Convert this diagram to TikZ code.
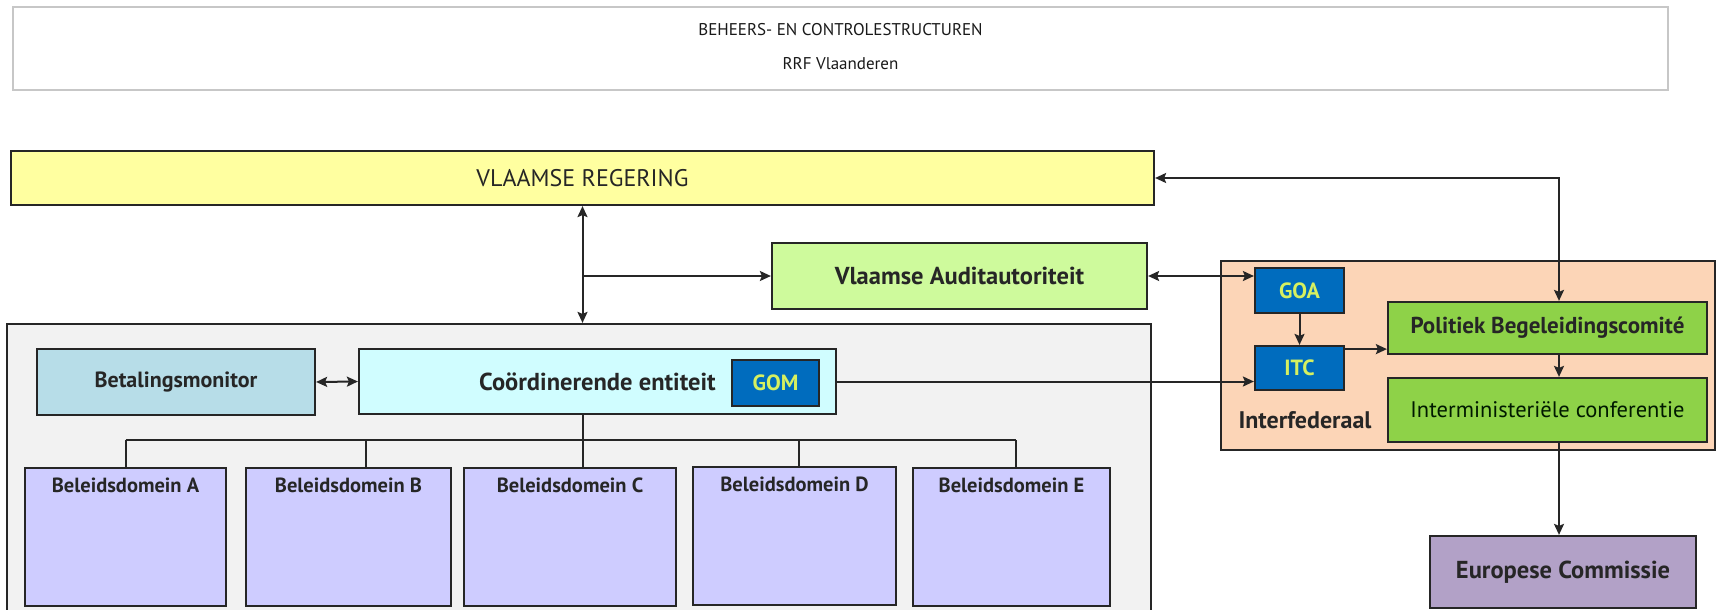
\documentclass[tikz,border=0pt]{standalone}
\usepackage{fontspec}
\setmainfont{PT Sans}
\usetikzlibrary{arrows.meta,positioning}
\definecolor{vryellow}{RGB}{255,255,160}
\definecolor{vagreen}{RGB}{206,250,156}
\definecolor{ctgrey}{RGB}{242,242,242}
\definecolor{bmblue}{RGB}{183,221,232}
\definecolor{cecyan}{RGB}{208,253,255}
\definecolor{codeblue}{RGB}{0,108,190}
\definecolor{codetext}{RGB}{214,240,96}
\definecolor{bdlilac}{RGB}{206,204,255}
\definecolor{ifpeach}{RGB}{252,213,183}
\definecolor{pbgreen}{RGB}{142,210,72}
\definecolor{eclilac}{RGB}{178,161,199}
\tikzstyle{box} = [draw=black!85, line width=2.2pt, inner sep=0pt, text=black!85, font={\fontsize{22}{26}\selectfont\bfseries}]
\tikzstyle{code} = [box, fill=codeblue, text=codetext, font={\fontsize{22}{26}\selectfont\bfseries}]
\tikzstyle{policybox} = [box, fill=bdlilac, minimum height=138pt]
\tikzstyle{policylabel} = [anchor=north, yshift=-7pt, text=black!85, font={\fontsize{20.5}{24}\selectfont\bfseries}]
\tikzstyle{arrow} = [line width=2pt,-{Stealth[length=11pt,width=10pt,inset=2pt]},color=black!85]
\tikzstyle{dblarrow} = [line width=2pt,{Stealth[length=11pt,width=10pt,inset=2pt]}-{Stealth[length=11pt,width=10pt,inset=2pt]},color=black!85]
\tikzstyle{link} = [line width=2pt,color=black!85]
\begin{document}
\begin{tikzpicture}[x=1pt,y=-1pt]
\useasboundingbox (0,0) rectangle (1719,610);
% Title
\node[draw=black!22, line width=1.8pt, minimum width=1655pt, minimum height=83pt] (title) at (840.5,48.5) {};
\node[font={\fontsize{17}{20}\selectfont}, text=black!90] (head) at (840.5,30) {BEHEERS- EN CONTROLESTRUCTUREN};
\node[font={\fontsize{17}{20}\selectfont}, text=black!90] (sub) at (840.5,64) {RRF Vlaanderen};

% Flemish level
\node[box, fill=vryellow, minimum width=1143pt, minimum height=54pt, font={\fontsize{24}{28}\selectfont}] (vr) at (582.5,178) {VLAAMSE REGERING};
\node[box, fill=vagreen, minimum width=375pt, minimum height=66pt, font={\fontsize{24.5}{28}\selectfont\bfseries}] (audit) at (959.5,276) {Vlaamse Auditautoriteit};
\node[box, fill=ctgrey, minimum width=1144pt, minimum height=296pt] (cont) at (579,472) {};
\node[box, fill=bmblue, minimum width=278pt, minimum height=66pt] (bm) at (176,382) {Betalingsmonitor};
\node[box, fill=cecyan, minimum width=477pt, minimum height=65pt, font={\fontsize{24.5}{28}\selectfont\bfseries}] (coord) at (597.5,381.5) {Coördinerende entiteit};
\node[code, minimum width=87pt, minimum height=46pt] (gom) at (775.5,383) {GOM};

% Policy domains
\node[policybox, minimum width=201pt, label={[policylabel]north:Beleidsdomein A}] (dA) at (125.5,537) {};
\node[policybox, minimum width=205pt, label={[policylabel]north:Beleidsdomein B}] (dB) at (348.5,537) {};
\node[policybox, minimum width=212pt, label={[policylabel]north:Beleidsdomein C}] (dC) at (570,537) {};
\node[policybox, minimum width=203pt, label={[policylabel]north:Beleidsdomein D}] (dD) at (794.5,536) {};
\node[policybox, minimum width=197pt, label={[policylabel]north:Beleidsdomein E}] (dE) at (1011.5,537) {};

% Interfederal level
\node[box, fill=ifpeach, minimum width=494pt, minimum height=189pt] (inter) at (1468,355.5) {};
\node[code, minimum width=89pt, minimum height=45pt] (goa) at (1299.5,290.5) {GOA};
\node[code, minimum width=89pt, minimum height=44pt] (itc) at (1299.5,368) {ITC};
\node[font={\fontsize{24}{28}\selectfont\bfseries}, text=black!85] (ifl) at (1305,420) {Interfederaal};
\node[box, fill=pbgreen, minimum width=319pt, minimum height=52pt, font={\fontsize{23}{27}\selectfont\bfseries}] (pbc) at (1547.5,328) {Politiek Begeleidingscomité};
\node[box, fill=pbgreen, minimum width=319pt, minimum height=64pt, font={\fontsize{22.5}{27}\selectfont}, text=black!75!green!40!black] (imc) at (1547.5,410) {Interministeriële conferentie};
\node[box, fill=eclilac, minimum width=266pt, minimum height=72pt, font={\fontsize{24.5}{28}\selectfont\bfseries}] (ec) at (1563,572) {Europese Commissie};

% Connectors
\coordinate (rx) at (1559,0);
\coordinate (bar) at (0,440);
\coordinate (split) at (vr.south |- audit.west);
\draw[dblarrow] (vr.south) -- (vr.south |- cont.north);
\draw[arrow] (split) -- (audit.west);
\draw[dblarrow] (audit.east) -- (audit.east -| goa.west);
\draw[dblarrow] (bm.east) -- (coord.west);
\draw[arrow] (coord.east) -- (coord.east -| itc.west);
\draw[arrow] (goa.south) -- (itc.north);
\draw[arrow] ([yshift=6pt]itc.east |- pbc.south) -- ([yshift=6pt]pbc.south west);
\draw[dblarrow] (vr.east) -| (pbc.north -| rx);
\draw[arrow] (pbc.south -| rx) -- (imc.north -| rx);
\draw[arrow] (imc.south -| rx) -- (rx |- ec.north);

% Tree
\draw[link] (vr.south |- coord.south) -- (vr.south |- dC.north);
\draw[link] (dA.north |- bar) -- ([xshift=4pt]dE.north |- bar);
\draw[link] (dA.north) -- (dA.north |- bar);
\draw[link] ([xshift=17pt]dB.north) -- ([xshift=17pt]dB.north |- bar);
\draw[link] ([xshift=4pt]dD.north) -- ([xshift=4pt]dD.north |- bar);
\draw[link] ([xshift=4pt]dE.north) -- ([xshift=4pt]dE.north |- bar);
\end{tikzpicture}
\end{document}
